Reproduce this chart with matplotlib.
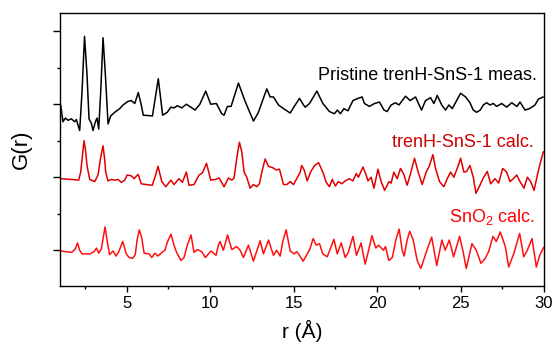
import matplotlib
matplotlib.use("Agg")
import matplotlib.pyplot as plt
from matplotlib.ticker import MultipleLocator, NullFormatter

plt.rcParams['font.family'] = ['Liberation Sans', 'DejaVu Sans']
plt.rcParams['mathtext.fontset'] = 'custom'
plt.rcParams['mathtext.rm'] = 'Liberation Sans'

# Pristine trenH-SnS-1 measured G(r)
r_meas = [1.04, 1.18, 1.32, 1.48, 1.68, 1.88, 1.98, 2.18, 2.32, 2.47, 2.62, 2.74, 2.88, 2.98,
          3.12, 3.22, 3.32, 3.44, 3.58, 3.72, 3.88, 4.04, 4.28, 4.58, 4.78, 5.08, 5.27, 5.48,
          5.69, 5.87, 5.99, 6.54, 6.89, 7.15, 7.43, 7.64, 7.83, 8.03, 8.30, 8.57, 8.84, 9.09,
          9.38, 9.73, 10.03, 10.37, 10.69, 10.83, 11.03, 11.25, 11.69, 12.09, 12.59, 12.87,
          13.39, 13.59, 13.79, 14.09, 14.39, 14.79, 15.09, 15.35, 15.59, 15.69, 15.95, 16.39,
          16.75, 17.14, 17.44, 17.62, 17.80, 18.01, 18.25, 18.55, 18.85, 19.10, 19.24, 19.54,
          19.84, 20.14, 20.41, 20.60, 20.84, 21.10, 21.31, 21.70, 21.98, 22.30, 22.66, 22.90,
          23.20, 23.40, 23.60, 23.87, 24.10, 24.30, 24.50, 25.00, 25.30, 25.56, 25.76, 25.96,
          26.18, 26.36, 26.56, 26.76, 26.96, 27.16, 27.46, 27.76, 28.06, 28.38, 28.56, 28.86,
          29.13, 29.46, 29.66, 29.95]
g_meas = [-0.01, -0.24, -0.19, -0.22, -0.20, -0.24, -0.21, -0.36, 0.17, 0.93, 0.40, -0.20, -0.26, -0.36,
          -0.24, -0.19, -0.34, 0.17, 0.91, 0.40, -0.27, -0.16, -0.11, -0.06, -0.01, 0.04, 0.05, 0.01,
          0.16, -0.01, -0.15, -0.16, 0.35, -0.15, -0.11, -0.04, -0.05, -0.02, -0.05, 0.00, -0.04, -0.08,
          0.00, 0.18, 0.00, 0.01, -0.13, -0.15, -0.03, -0.03, 0.29, 0.04, -0.23, -0.12,
          0.21, 0.10, 0.10, -0.01, -0.06, -0.12, -0.01, 0.08, -0.01, -0.04, 0.01, 0.18,
          0.01, -0.10, -0.13, -0.08, -0.13, -0.06, -0.09, 0.05, 0.08, 0.10, 0.01, -0.03,
          0.01, 0.03, -0.08, -0.10, -0.01, 0.02, -0.01, 0.11, 0.05, 0.10, -0.08, 0.05,
          0.09, 0.01, 0.12, -0.01, -0.08, -0.01, -0.06, 0.15, 0.10, 0.02, -0.08, -0.11,
          -0.08, -0.01, 0.02, -0.01, 0.01, -0.03, 0.01, -0.04, 0.02, -0.03, 0.03, -0.08,
          -0.06, -0.01, 0.07, 0.10]

# trenH-SnS-1 calculated G(r)
r_calc = [1.04, 1.68, 2.12, 2.24, 2.35, 2.44, 2.53, 2.62, 2.78, 3.08, 3.28, 3.43, 3.58, 3.67,
          3.74, 3.88, 4.08, 4.28, 4.48, 4.68, 4.88, 5.02, 5.27, 5.44, 5.68, 5.87, 6.16, 6.53,
          6.73, 6.87, 7.10, 7.34, 7.64, 7.83, 8.13, 8.33, 8.57, 8.73, 9.03, 9.33, 9.53, 9.78,
          10.03, 10.33, 10.53, 10.73, 10.83, 11.09, 11.29, 11.43, 11.59, 11.75, 11.89, 12.03,
          12.19, 12.39, 12.59, 12.79, 12.95, 13.09, 13.29, 13.49, 13.75, 13.95, 14.15, 14.39,
          14.59, 14.79, 14.99, 15.23, 15.39, 15.48, 15.63, 15.81, 16.01, 16.25, 16.49, 16.75,
          16.95, 17.14, 17.31, 17.50, 17.68, 17.89, 18.09, 18.34, 18.55, 18.75, 18.88, 19.15,
          19.34, 19.45, 19.64, 19.81, 20.05, 20.24, 20.45, 20.71, 20.84, 21.00, 21.20, 21.40,
          21.60, 21.80, 22.00, 22.24, 22.46, 22.70, 22.94, 23.12, 23.34, 23.50, 23.74, 24.00,
          24.20, 24.40, 24.60, 24.86, 25.00, 25.20, 25.36, 25.56, 25.76, 25.92, 26.16, 26.36,
          26.60, 26.80, 27.06, 27.28, 27.52, 27.76, 27.96, 28.16, 28.36, 28.56, 28.80, 29.00,
          29.20, 29.40, 29.60, 29.79, 29.96]
g_calc = [-0.02, -0.03, -0.04, 0.07, 0.30, 0.50, 0.37, 0.16, -0.03, -0.06, 0.03, 0.26, 0.43, 0.26,
          0.07, -0.05, -0.03, -0.04, -0.03, -0.07, -0.04, 0.03, 0.02, -0.02, 0.04, -0.09, -0.10, -0.11,
          0.03, 0.15, -0.06, -0.13, -0.04, -0.10, -0.02, -0.07, 0.07, -0.11, -0.10, 0.03, 0.06, 0.19,
          -0.04, -0.03, -0.01, -0.09, -0.13, -0.01, -0.04, -0.01, 0.26, 0.48, 0.35, 0.07,
          0.00, -0.15, -0.10, -0.13, -0.09, 0.07, 0.25, 0.15, 0.13, 0.10, 0.11, -0.10,
          -0.10, -0.06, -0.10, 0.00, 0.07, 0.16, 0.10, -0.05, 0.07, 0.16, 0.20, 0.07,
          -0.07, -0.13, -0.03, -0.12, -0.06, -0.09, -0.05, -0.02, -0.05, 0.05, 0.00, 0.14,
          0.03, -0.05, 0.00, -0.15, 0.11, -0.06, -0.18, -0.06, -0.08, 0.07, -0.02, 0.12,
          0.04, -0.11, 0.05, 0.26, 0.07, -0.10, 0.07, 0.15, 0.31, 0.12, -0.06, -0.13,
          -0.02, 0.07, 0.00, 0.16, 0.26, 0.07, 0.08, 0.16, 0.00, -0.22, -0.11, -0.01,
          0.08, -0.09, -0.02, -0.08, 0.12, 0.07, -0.06, -0.02, 0.03, -0.06, -0.15, 0.00,
          -0.06, -0.18, 0.03, 0.21, 0.35]

# SnO2 calculated G(r)
r_sno2 = [1.04, 1.70, 1.92, 2.05, 2.18, 2.32, 2.80, 3.04, 3.19, 3.32, 3.48, 3.58, 3.70, 3.84,
          3.97, 4.18, 4.36, 4.52, 4.76, 4.97, 5.14, 5.36, 5.51, 5.62, 5.75, 5.89, 6.04, 6.34,
          6.50, 6.69, 6.86, 7.11, 7.29, 7.43, 7.65, 7.83, 7.97, 8.24, 8.43, 8.63, 8.85, 9.03,
          9.23, 9.49, 9.71, 10.05, 10.35, 10.49, 10.59, 10.79, 11.04, 11.29, 11.59, 11.79,
          11.99, 12.29, 12.59, 12.99, 13.19, 13.49, 13.79, 13.98, 14.19, 14.35, 14.55, 14.79,
          15.03, 15.18, 15.29, 15.57, 15.96, 16.17, 16.35, 16.55, 16.74, 17.01, 17.41, 17.61,
          17.85, 18.09, 18.27, 18.55, 18.76, 19.04, 19.28, 19.46, 19.69, 19.92, 20.08, 20.38,
          20.50, 20.70, 20.91, 21.12, 21.32, 21.50, 21.62, 21.80, 21.95, 22.16, 22.40, 22.62,
          22.98, 23.27, 23.57, 23.88, 24.08, 24.32, 24.58, 24.94, 25.16, 25.34, 25.68, 25.94,
          26.22, 26.48, 26.68, 26.94, 27.14, 27.38, 27.68, 27.88, 28.18, 28.54, 28.78, 29.00,
          29.28, 29.54, 29.74, 29.98]
g_sno2 = [-0.01, -0.03, 0.02, 0.10, 0.00, -0.05, -0.05, -0.02, 0.03, -0.04, 0.02, 0.16, 0.32, 0.11,
          -0.06, -0.01, -0.08, -0.02, 0.12, -0.05, -0.10, -0.11, -0.06, 0.14, 0.28, 0.18, -0.04, -0.05,
          -0.10, -0.04, -0.08, -0.03, 0.00, 0.11, 0.22, 0.07, -0.02, -0.14, -0.10, 0.07, 0.21, -0.03,
          0.01, -0.02, -0.10, -0.01, -0.07, 0.07, 0.12, 0.00, 0.21, 0.01, 0.05, 0.00,
          -0.10, 0.07, -0.15, 0.13, -0.05, 0.14, -0.07, 0.00, -0.08, 0.12, 0.28, -0.01,
          -0.05, -0.02, -0.05, -0.15, 0.01, 0.16, 0.07, 0.09, -0.05, -0.09, 0.15, -0.05,
          0.10, -0.10, -0.03, 0.19, -0.07, 0.10, -0.19, -0.03, 0.20, 0.03, 0.07, 0.00,
          0.05, -0.14, -0.10, 0.14, 0.29, 0.00, -0.08, 0.14, 0.26, 0.14, -0.14, -0.25,
          0.00, 0.18, -0.21, 0.14, 0.00, 0.14, -0.09, 0.19, -0.03, -0.25, 0.09, 0.00,
          -0.18, -0.11, -0.02, 0.19, 0.12, 0.25, 0.05, -0.23, -0.05, 0.23, -0.09, 0.00,
          0.16, -0.23, -0.07, 0.04]

labels = ["Pristine trenH-SnS-1 meas.", "trenH-SnS-1 calc.", "SnO$_2$ calc."]
x_ticks = [5, 10, 15, 20, 25, 30]

offsets = [2.0, 1.0, 0.0]
line_colors = ["black", "#e00000", "#ff1010"]
text_colors = ["black", "#cc0000", "#ff0000"]

fig = plt.figure(figsize=(5.58, 3.49), dpi=100)
ax = fig.add_axes([0.1075, 0.1805, 0.8675, 0.7823])

series = [(r_meas, g_meas), (r_calc, g_calc), (r_sno2, g_sno2)]
for (r, g), off, c in zip(series, offsets, line_colors):
    ax.plot(r, [v + off for v in g], color=c, lw=1.1,
            solid_joinstyle='round', solid_capstyle='round')

label_pos = [(29.6, 2.40), (29.36, 1.47), (29.48, 0.45)]
for lab, (lx, ly), tc in zip(labels, label_pos, text_colors):
    ax.text(lx, ly, lab, color=tc, fontsize=13, ha='right', va='center')

ax.set_xlim(1, 30)
ax.set_ylim(-0.49, 3.25)
ax.set_xticks(x_ticks)
ax.xaxis.set_minor_locator(MultipleLocator(2.5))
ax.yaxis.set_major_locator(MultipleLocator(1))
ax.yaxis.set_minor_locator(MultipleLocator(0.5))
ax.yaxis.set_major_formatter(NullFormatter())
ax.tick_params(axis='x', which='major', direction='out', length=4.5, width=1, labelsize=12, pad=3)
ax.tick_params(axis='x', which='minor', direction='out', length=2, width=1)
ax.tick_params(axis='y', which='major', direction='out', length=5, width=1)
ax.tick_params(axis='y', which='minor', direction='out', length=2, width=1)
for s in ax.spines.values():
    s.set_linewidth(1.0)
ax.set_xlabel("r (Å)", fontsize=15, labelpad=6)
ax.set_ylabel("G(r)", fontsize=16, labelpad=12)

fig.savefig("out.png", dpi=100)
